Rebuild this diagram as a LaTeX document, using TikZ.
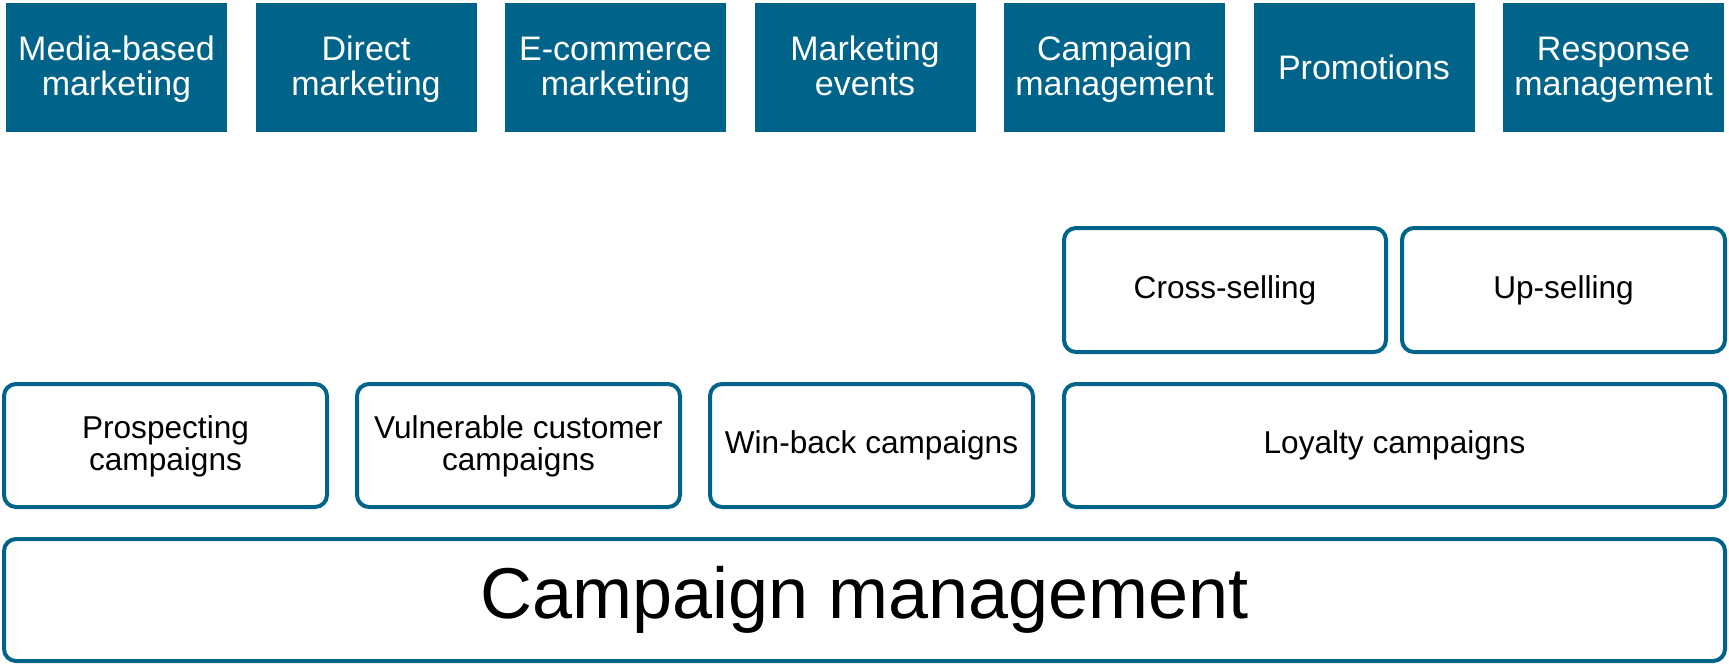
\documentclass[tikz,border=0pt]{standalone}
\usepackage{fontspec}
\setmainfont{Liberation Sans}
\definecolor{teal}{RGB}{0,100,138}
\newcommand{\dn}[2][0.8pt]{\raisebox{-#1}{#2}}
\newcommand{\hsT}{\rule{0pt}{13.6pt}}
\newcommand{\dsT}{\rule[-3.6pt]{0pt}{3.6pt}}
\newcommand{\hsM}{\rule{0pt}{12.3pt}}
\newcommand{\dsM}{\rule[-3.3pt]{0pt}{3.3pt}}
\begin{document}
\begin{tikzpicture}[x=1pt,y=1pt,
  topbox/.style={fill=teal, draw=none, text=white, minimum width=110.5pt, minimum height=64.5pt,
    align=center, inner sep=0pt, font=\fontsize{17}{17.5}\selectfont},
  rbox/.style={draw=teal, line width=2pt, rounded corners=6pt, fill=white, text=black,
    minimum height=62pt, align=center, inner sep=0pt, font=\fontsize{15.8}{15.9}\selectfont},
  bigbox/.style={draw=teal, line width=2pt, rounded corners=6pt, fill=white, text=black,
    minimum width=860.5pt, minimum height=61pt, inner sep=0pt, font=\fontsize{36}{40}\selectfont}]
\useasboundingbox (0,0) rectangle (864.5,-332.5);
% top row
\node[topbox] (t1) at (58.25,-33.75) {\hsT Media-based\\marketing\dsT};
\node[topbox] (t2) at (183,-33.75) {\hsT Direct\\marketing\dsT};
\node[topbox] (t3) at (307.75,-33.75) {\hsT E-commerce\\marketing\dsT};
\node[topbox] (t4) at (432.5,-33.75) {\hsT Marketing\\events\dsT};
\node[topbox] (t5) at (557.25,-33.75) {\hsT Campaign\\management\dsT};
\node[topbox] (t6) at (682,-33.75) {\raisebox{0.7pt}{Promotions}};
\node[topbox] (t7) at (806.75,-33.75) {\hsT Response\\management\dsT};
% upper rounded row
\node[rbox, minimum width=161pt] (cross) at (612.5,-145) {\dn[0.6pt]{Cross-selling}};
\node[rbox, minimum width=161.5pt] (up) at (781.75,-145) {\dn[0.6pt]{Up-selling}};
% middle row
\node[rbox, minimum width=161.5pt, minimum height=61.5pt] (pros) at (82.75,-222.75) {\hsM Prospecting\\campaigns\dsM};
\node[rbox, minimum width=161.5pt, minimum height=61.5pt] (vul) at (259.25,-222.75) {\hsM Vulnerable customer\\campaigns\dsM};
\node[rbox, minimum width=161.5pt, minimum height=61.5pt] (win) at (435.75,-222.75) {\dn{Win-back campaigns}};
\node[rbox, minimum width=330.5pt, minimum height=61.5pt] (loy) at (697.25,-222.75) {\dn{Loyalty campaigns}};
% bottom
\node[bigbox] (cm) at (432.25,-300) {\dn[2.3pt]{Campaign management}};
\end{tikzpicture}
\end{document}
